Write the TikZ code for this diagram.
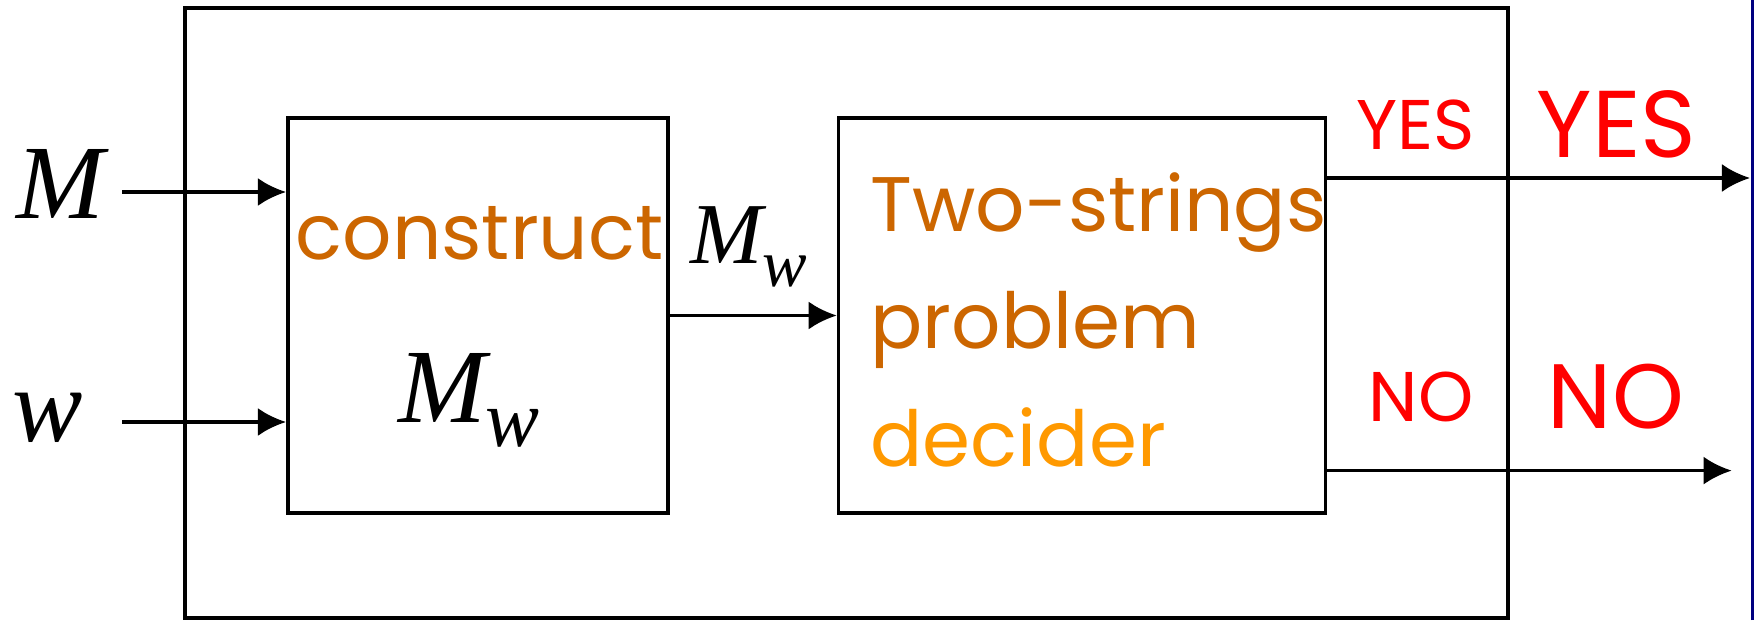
\documentclass[tikz,border=0pt]{standalone}
\usepackage{fontspec}
\usepackage{tikz}
\usetikzlibrary{arrows.meta,positioning,calc}
\setmainfont{Liberation Serif}
\newfontfamily\comicfont{Poppins}
\definecolor{darkorange}{RGB}{204,102,0}
\definecolor{lightorange}{RGB}{255,153,0}
\definecolor{edgeblue}{RGB}{0,0,128}

% M with subscript w
\newcommand{\Mw}[3]{{\fontsize{#1}{#1}\selectfont\itshape M\raisebox{-#3}{\fontsize{#2}{#2}\selectfont w}}}

\begin{document}
\begin{tikzpicture}[
    box/.style={draw, rectangle, line width=1pt, inner sep=0pt},
    arr/.style={-{Latex[length=8pt,width=8pt]}, line width=1pt},
    mathlbl/.style={inner sep=0pt, anchor=base},
    word/.style={inner sep=0pt, anchor=base west, font=\comicfont\fontsize{22}{22}\selectfont},
    answer/.style={inner sep=0pt, anchor=base, text=red, font=\comicfont\fontsize{#1}{#1}\selectfont}
]
\useasboundingbox (0,0) rectangle (17.54,6.2);

% Outer machine
\node[box, minimum width=13.23cm, minimum height=6.10cm] (outer) at (8.465,3.07) {};

% Inner boxes
\node[box, minimum width=3.805cm, minimum height=3.955cm] (construct) at (4.78,3.045) {};
\node[box, minimum width=4.87cm, minimum height=3.955cm] (decider) at (10.82,3.045) {};

% Inputs
\node[mathlbl] (mlab) at (0.60,4.01) {\fontsize{30}{30}\selectfont\itshape M};
\node[mathlbl] (wlab) at (0.48,1.79) {\fontsize{30}{30}\selectfont\itshape w};
\coordinate (min) at (1.22,4.28);
\coordinate (win) at (1.22,1.98);
\draw[arr] (min) -- (min -| construct.west);
\draw[arr] (win) -- (win -| construct.west);

% Construct box text
\node[word, anchor=base, text=darkorange] (ctext) at (4.795,3.60) {construct};
\node[mathlbl] (mwin) at (4.69,1.974) {\Mw{30pt}{23pt}{6.7pt}};

% Middle connector
\draw[arr] (construct) -- (decider);
\node[mathlbl] (mwlab) at (7.49,3.57) {\Mw{24.7pt}{19pt}{6.7pt}};

% Decider text
\node[word, text=darkorange] (dtext1) at (8.70,3.89) {Two-strings};
\node[word, text=darkorange] (dtext2) at (8.70,2.714) {problem};
\node[word, text=lightorange] (dtext3) at (8.70,1.54) {decider};

% Outputs
\coordinate (yesend) at (17.50,4.42);
\coordinate (noend) at (17.317,1.494);
\draw[arr] (decider.east |- yesend) -- (yesend);
\draw[arr] (decider.east |- noend) -- (noend);
\node[answer=20] (yes1) at (14.155,4.706) {YES};
\node[answer=27] (yes2) at (16.165,4.627) {YES};
\node[answer=20] (no1) at (14.21,1.99) {NO};
\node[answer=26] (no2) at (16.16,1.912) {NO};

% Right edge
\draw[edgeblue, line width=0.03cm] (17.525,0) -- (17.525,6.2);

\end{tikzpicture}
\end{document}
